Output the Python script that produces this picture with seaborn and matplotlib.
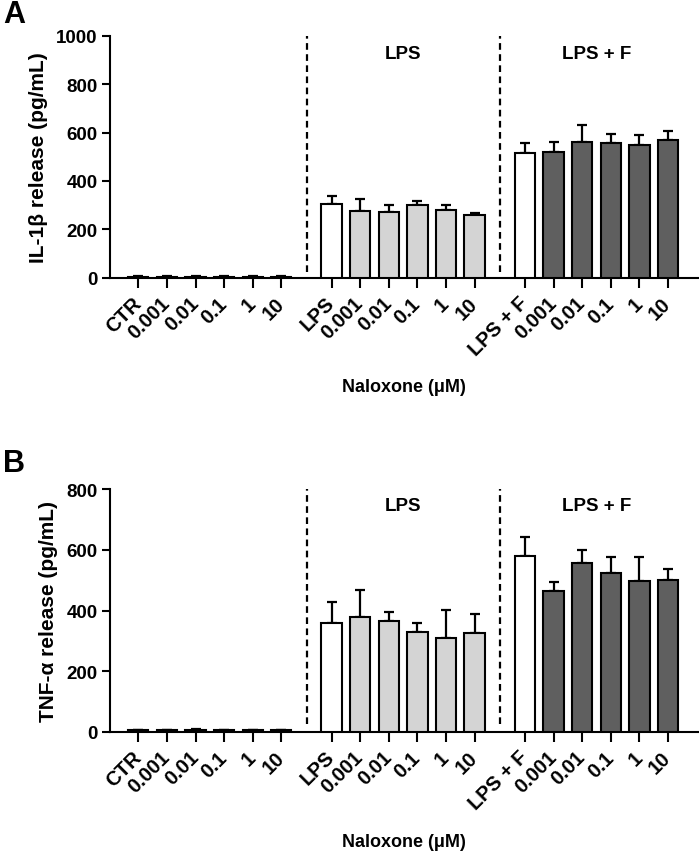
import numpy as np
import pandas as pd
import matplotlib
matplotlib.use("Agg")
import matplotlib.pyplot as plt
import seaborn as sns

# ---------------- data ----------------
conc_labels = ["0.001", "0.01", "0.1", "1", "10"]
tick_labels = ["CTR"] + conc_labels + ["LPS"] + conc_labels + ["LPS + F"] + conc_labels
group_index = [0] * 6 + [1] * 6 + [2] * 6
fill_class = ["base"] * 6 + ["base"] + ["lps"] * 5 + ["base"] + ["lpsf"] * 5
group_names = ["LPS", "LPS + F"]

il1b_mean = [3, 3, 3, 3, 3, 3, 305, 277, 273, 302, 280, 260, 514, 518, 559, 555, 547, 569]
il1b_err = [3, 2, 3, 2, 2, 2, 33, 48, 29, 16, 22, 7, 43, 41, 72, 39, 43, 36]
tnf_mean = [4, 4, 6, 4, 4, 5, 358, 378, 366, 330, 308, 325, 580, 463, 556, 524, 498, 501]
tnf_err = [3, 3, 3, 2, 2, 2, 71, 89, 29, 28, 94, 63, 61, 32, 45, 53, 80, 37]

# ---------------- style ----------------
sns.set_theme(style="ticks")
plt.rcParams["font.family"] = ["Liberation Sans", "DejaVu Sans"]
plt.rcParams["font.weight"] = "bold"
plt.rcParams["axes.labelweight"] = "bold"
for key in ("text.color", "axes.labelcolor", "xtick.color", "ytick.color", "axes.edgecolor"):
    plt.rcParams[key] = "black"

palette = {"base": "#ffffff", "lps": "#d4d4d4", "lpsf": "#5f5f5f"}
GROUP_STEP = 6.76
slot = [i - 6 * g for i, g in enumerate(group_index)]
positions = [s + g * GROUP_STEP for s, g in zip(slot, group_index)]
dividers = [GROUP_STEP - 0.86, 2 * GROUP_STEP - 0.86]
group_centers = [2.5 + GROUP_STEP, 2.5 + 2 * GROUP_STEP]

fig = plt.figure(figsize=(6.99, 8.54), dpi=100)
W, H = 699, 854


def ax_rect(left_px, top_px, right_px, bottom_px):
    return [left_px / W, 1 - bottom_px / H, (right_px - left_px) / W, (bottom_px - top_px) / H]


axA = fig.add_axes(ax_rect(110, 36.7, 698, 278.7))
axB = fig.add_axes(ax_rect(110, 490.3, 698, 732.7))


def draw(ax, means, errs, ymax, ylabel, yticks, label_y, dash_bottom):
    df = pd.DataFrame({"pos": positions, "val": means, "cls": fill_class})
    sns.barplot(data=df, x="pos", y="val", hue="cls", palette=palette,
                native_scale=True, dodge=False, width=0.71, errorbar=None,
                edgecolor="black", linewidth=1.5, legend=False, ax=ax, zorder=3)
    ax.errorbar(positions, means, yerr=[np.zeros(len(errs)), errs], fmt="none",
                ecolor="black", elinewidth=1.6, capsize=3.3, capthick=1.6, zorder=2)
    ax.vlines(dividers, dash_bottom, ymax, colors="black", linestyles=(0, (3, 2)),
              linewidth=1.6, zorder=1)
    for name, cx in zip(group_names, group_centers):
        ax.text(cx, label_y, name, ha="center", va="center", fontsize=13.5,
                fontweight="bold")
    ax.set_xlim(-0.99, 19.57)
    ax.set_ylim(0, ymax)
    ax.set_yticks(yticks)
    ax.set_yticklabels([str(t) for t in yticks], fontsize=13.5, fontweight="bold")
    ax.set_xticks(positions)
    ax.set_xticklabels(tick_labels, rotation=45, ha="right", va="center",
                       rotation_mode="anchor", fontsize=14.5, fontweight="bold")
    ax.tick_params(axis="x", length=7, width=1.5, pad=9, direction="out")
    ax.tick_params(axis="y", length=6, width=1.5, pad=3, direction="out")
    for side in ("top", "right"):
        ax.spines[side].set_visible(False)
    for side in ("left", "bottom"):
        ax.spines[side].set_linewidth(1.5)
    ax.set_ylabel(ylabel, fontsize=15, fontweight="bold", labelpad=6)
    ax.set_xlabel("Naloxone (\u03bcM)", fontsize=13, fontweight="bold")
    ax.xaxis.set_label_coords(0.5, -0.451)
    ax.xaxis.label.set_va("center")


draw(axA, il1b_mean, il1b_err, 1000, "IL-1\u03b2 release (pg/mL)",
     [0, 200, 400, 600, 800, 1000], 928, 22)
draw(axB, tnf_mean, tnf_err, 800, "TNF-\u03b1 release (pg/mL)",
     [0, 200, 400, 600, 800], 745, 25)

fig.text(3 / W, 1 - 15 / H, "A", fontsize=22, fontweight="bold", va="center", ha="left")
fig.text(3 / W, 1 - 464 / H, "B", fontsize=22, fontweight="bold", va="center", ha="left")

fig.savefig("out.png", dpi=100)
